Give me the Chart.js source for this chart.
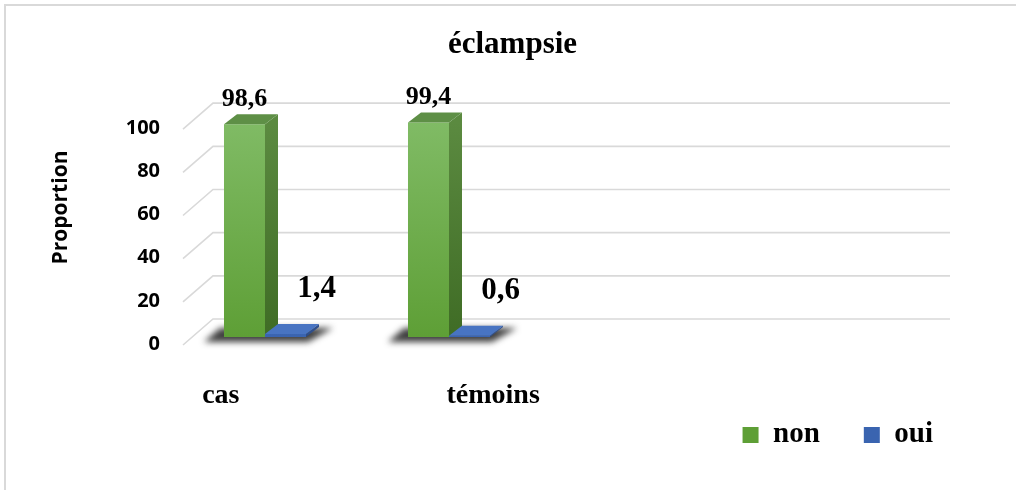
<!DOCTYPE html>
<html lang="fr">
<head>
<meta charset="utf-8">
<title>éclampsie</title>
<script src="https://cdn.jsdelivr.net/npm/chart.js@4.4.1/dist/chart.umd.min.js"></script>
<style>
  html, body { margin: 0; padding: 0; background: #ffffff; overflow: hidden; }
  #wrap { position: relative; width: 1016px; height: 490px; }
  #frame { position: absolute; left: 4px; top: 4px; width: 1200px; height: 800px;
           border: 2px solid #d9d9d9; box-sizing: border-box; }
  #chart { position: absolute; left: 0; top: 0; }
</style>
</head>
<body>
<div id="wrap">
  <div id="frame"></div>
  <canvas id="chart" width="1016" height="490"></canvas>
</div>
<script>
// Categories (the two trailing slots are empty positions on the floor)
const categories = ['cas', 'témoins', '', ''];
// Proportions (%)
const nonValues = [98.6, 99.4, null, null];
const ouiValues = [1.4, 0.6, null, null];
// Value-axis ticks
const yTicks = [0, 20, 40, 60, 80, 100];

const SERIF = "'Liberation Serif', 'Times New Roman', serif";
const SANS = "'Open Sans', 'DejaVu Sans', sans-serif";

// depth of the 3-D bars and of the back wall
const BAR_DEPTH = { dx: 13, dy: -10 };
const WALL = { dx: 30, dy: -26, front: 8 };

const fmt = v => String(v).replace('.', ',');

function frontFill(top, bottom, flat) {
  return (c) => {
    if (c.type !== 'data' || !c.chart.chartArea) return flat;
    const ys = c.chart.scales.y;
    const g = c.chart.ctx.createLinearGradient(0, ys.getPixelForValue(100), 0, ys.getPixelForValue(0));
    g.addColorStop(0, top);
    g.addColorStop(1, bottom);
    return g;
  };
}

// Side / top face colours for each series
const faces = [
  { sideTop: '#5b8a40', sideBottom: '#3f6c25', top: '#5e8f46' },
  { sideTop: '#2f4f8c', sideBottom: '#2a4780', top: '#4874c2' }
];

function poly(ctx, pts, fill) {
  ctx.beginPath();
  ctx.moveTo(pts[0][0], pts[0][1]);
  for (let k = 1; k < pts.length; k++) ctx.lineTo(pts[k][0], pts[k][1]);
  ctx.closePath();
  ctx.fillStyle = fill;
  ctx.fill();
}

// Floor / back-wall grid lines in perspective
const wallGrid = {
  id: 'wallGrid',
  beforeDatasetsDraw(chart) {
    const { ctx, chartArea: a } = chart;
    const ys = chart.scales.y;
    ctx.save();
    ctx.strokeStyle = '#d9d9d9';
    ctx.lineWidth = 1.6;
    ys.ticks.forEach(t => {
      const py = ys.getPixelForValue(t.value);
      const bx = a.left + 10 + WALL.dx;
      const by = py + WALL.front + WALL.dy;
      ctx.beginPath();
      ctx.moveTo(a.left + 10, py + WALL.front);
      ctx.lineTo(bx, by);
      ctx.lineTo(a.right + 41, by);
      ctx.stroke();
    });

    // soft shadow cast on the floor by each group of bars
    const m0 = chart.getDatasetMeta(0), m1 = chart.getDatasetMeta(1);
    const base = ys.getPixelForValue(0);
    m0.data.forEach((bar, j) => {
      if (nonValues[j] == null) return;
      const b0 = bar.getProps(['x', 'width'], true);
      const b1 = m1.data[j].getProps(['x', 'width'], true);
      const gl = b0.x - b0.width / 2;
      const gr = b1.x + b1.width / 2;
      ctx.save();
      ctx.filter = 'blur(3px)';
      poly(ctx, [[gl - 20, base + 5], [gr + 2, base + 5],
                 [gr + BAR_DEPTH.dx + 14, base + BAR_DEPTH.dy + 1], [gl - 4, base + BAR_DEPTH.dy + 1]],
           'rgba(30,30,30,0.85)');
      ctx.restore();
    });
    ctx.restore();
  }
};

// Side and top faces of the bars
const bars3d = {
  id: 'bars3d',
  afterDatasetsDraw(chart) {
    const ctx = chart.ctx;
    const { dx, dy } = BAR_DEPTH;
    ctx.save();
    chart.data.datasets.forEach((ds, i) => {
      const meta = chart.getDatasetMeta(i);
      meta.data.forEach((bar, j) => {
        if (ds.data[j] == null) return;
        if (i > 0) bar.draw(ctx);
        const { x, y, base, width } = bar.getProps(['x', 'y', 'base', 'width'], true);
        const l = x - width / 2, r = x + width / 2;
        const f = faces[i];
        const g = ctx.createLinearGradient(0, y, 0, base);
        g.addColorStop(0, f.sideTop);
        g.addColorStop(1, f.sideBottom);
        poly(ctx, [[r, y], [r + dx, y + dy], [r + dx, base + dy], [r, base]], g);
        poly(ctx, [[l, y], [l + dx, y + dy], [r + dx, y + dy], [r, y]], f.top);
      });
    });
    ctx.restore();
  }
};

// Value labels above the bars
const valueLabels = {
  id: 'valueLabels',
  afterDatasetsDraw(chart, args, opts) {
    const ctx = chart.ctx;
    ctx.save();
    ctx.fillStyle = '#000';
    ctx.textAlign = 'center';
    ctx.textBaseline = 'alphabetic';
    chart.data.datasets.forEach((ds, i) => {
      const st = opts.styles[i];
      ctx.font = `bold ${st.size}px ${SERIF}`;
      chart.getDatasetMeta(i).data.forEach((bar, j) => {
        const v = ds.data[j];
        if (v == null) return;
        const { x, y } = bar.getProps(['x', 'y'], true);
        ctx.fillText(fmt(v), x + st.dx, y + st.dy);
      });
    });
    ctx.restore();
  }
};

// Category names along the front of the floor, fanned out from the middle of the used slots
const categoryLabels = {
  id: 'categoryLabels',
  afterDraw(chart, args, opts) {
    const ctx = chart.ctx;
    const xs = chart.scales.x, ys = chart.scales.y;
    const used = categories.map((c, i) => i).filter(i => categories[i] !== '');
    const px = used.map(i => xs.getPixelForValue(i));
    const mid = px.reduce((s, v) => s + v, 0) / px.length;
    ctx.save();
    ctx.fillStyle = '#000';
    ctx.font = `bold ${opts.size}px ${SERIF}`;
    ctx.textAlign = 'center';
    ctx.textBaseline = 'alphabetic';
    used.forEach((i, k) => {
      ctx.fillText(categories[i], mid + (px[k] - mid) * opts.spread, ys.getPixelForValue(0) + opts.drop);
    });
    ctx.restore();
  }
};

new Chart(document.getElementById('chart'), {
  type: 'bar',
  data: {
    labels: categories,
    datasets: [
      {
        label: 'non',
        data: nonValues,
        backgroundColor: frontFill('#80bb65', '#5e9f36', '#6aab48'),
        borderWidth: 0
      },
      {
        label: 'oui',
        data: ouiValues,
        backgroundColor: frontFill('#4a76c4', '#3a64b0', '#4270c0'),
        borderWidth: 0
      }
    ]
  },
  options: {
    responsive: false,
    animation: false,
    events: [],
    layout: { padding: { left: 48, right: 39, top: 0, bottom: 30.5 } },
    datasets: { bar: { categoryPercentage: 0.4457, barPercentage: 1 } },
    scales: {
      x: {
        grid: { display: false },
        border: { display: false },
        ticks: { display: false },
        afterFit: s => { s.height = 39.5; }
      },
      y: {
        min: 0,
        max: 120,
        grid: { display: false, drawTicks: false },
        border: { display: false },
        afterBuildTicks: s => { s.ticks = yTicks.map(v => ({ value: v })); },
        ticks: {
          padding: 13,
          labelOffset: 7,
          color: '#000',
          font: { family: SANS, size: 20, weight: 'bold' }
        },
        title: {
          display: true,
          text: 'Proportion',
          color: '#000',
          font: { family: SANS, size: 21, weight: 'bold' },
          padding: { top: 0, bottom: 0 }
        },
        afterFit: s => { s.width = 125; }
      },
      yR: {
        position: 'right',
        grid: { display: false },
        border: { display: false },
        ticks: { display: false },
        afterFit: s => { s.width = 68; }
      }
    },
    plugins: {
      title: {
        display: true,
        text: 'éclampsie',
        color: '#000',
        font: { family: SERIF, size: 31, weight: 'bold' },
        padding: { top: 26.4, bottom: 14.4 }
      },
      legend: {
        position: 'bottom',
        align: 'end',
        labels: {
          color: '#000',
          font: { family: SERIF, size: 29, weight: 'bold' },
          boxWidth: 16,
          boxHeight: 16,
          padding: 44
        }
      },
      tooltip: { enabled: false },
      valueLabels: {
        styles: [
          { size: 26, dx: 0, dy: -18 },
          { size: 31, dx: 31, dy: -37 }
        ]
      },
      categoryLabels: { size: 28, spread: 1.48, drop: 66 }
    }
  },
  plugins: [wallGrid, bars3d, valueLabels, categoryLabels]
});
</script>
</body>
</html>
